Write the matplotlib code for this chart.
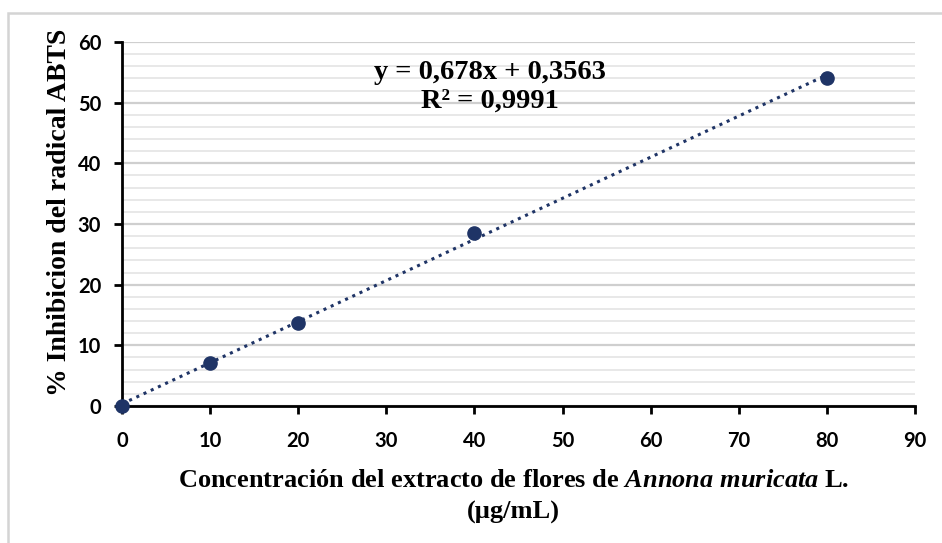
import numpy as np
import matplotlib.pyplot as plt
from matplotlib.patches import Rectangle
from matplotlib.ticker import MultipleLocator

plt.rcParams['mathtext.fontset'] = 'custom'
plt.rcParams['mathtext.rm'] = 'Liberation Serif:bold'
plt.rcParams['mathtext.it'] = 'Liberation Serif:bold:italic'

# datos
concentracion = [0, 10, 20, 40, 80]
inhibicion = [0.0, 7.1, 13.7, 28.5, 54.1]
ecuacion = "y = 0,678x + 0,3563"
r2 = "R² = 0,9991"

color = "#1f3466"

fig = plt.figure(figsize=(9.42, 5.43), dpi=100)
ax = fig.add_axes([0.1295, 0.2523, 0.8418, 0.6704])

# marco exterior
fig.patches.append(Rectangle((8 / 942, -0.1), 1.2, 1 - 13 / 543 + 0.1,
                             transform=fig.transFigure, fill=False,
                             edgecolor="#d4d4d4", linewidth=1.8))

# linea de tendencia
pend, inter = np.polyfit(concentracion, inhibicion, 1)
xt = np.array([min(concentracion), max(concentracion)])
ax.plot(xt, pend * xt + inter, linestyle=(0, (1, 1.6)), color=color,
        linewidth=2.2, zorder=3)
ax.plot(concentracion, inhibicion, 'o', color=color, markersize=9.5,
        zorder=4, clip_on=False)

ax.set_xlim(0, 90)
ax.set_ylim(0, 60)
ax.xaxis.set_major_locator(MultipleLocator(10))
ax.yaxis.set_major_locator(MultipleLocator(10))
ax.yaxis.set_minor_locator(MultipleLocator(2))
ax.grid(axis='y', which='major', color="#cfcfcf", linewidth=1.6)
ax.grid(axis='y', which='minor', color="#e6e6e6", linewidth=1.3)
ax.set_axisbelow(True)

for s in ['top', 'right']:
    ax.spines[s].set_visible(False)
for s in ['left', 'bottom']:
    ax.spines[s].set_linewidth(2)
ax.tick_params(axis='both', which='major', length=6, width=2, labelsize=14.5)
ax.tick_params(axis='x', pad=12)
ax.tick_params(axis='y', pad=9)
ax.tick_params(axis='y', which='minor', length=0)
for lab in ax.get_xticklabels() + ax.get_yticklabels():
    lab.set_fontfamily('Lato')
    lab.set_fontweight('bold')

ax.set_xlabel("Concentración del extracto de flores de "
              r"$\mathit{Annona\ muricata}$" " L.\n(µg/mL)",
              fontfamily='Liberation Serif', fontweight='bold', fontsize=19,
              labelpad=13, linespacing=1.5, x=0.494)
ax.set_ylabel("% Inhibicion del radical ABTS", fontfamily='Liberation Serif',
              fontweight='bold', fontsize=20, labelpad=4, y=0.533)

ax.text(0.464, 0.877, ecuacion + "\n" + r2, transform=ax.transAxes,
        ha='center', va='center', fontfamily='Liberation Serif',
        fontweight='bold', fontsize=20.5, linespacing=1.2)

fig.savefig("out.png", dpi=100)
